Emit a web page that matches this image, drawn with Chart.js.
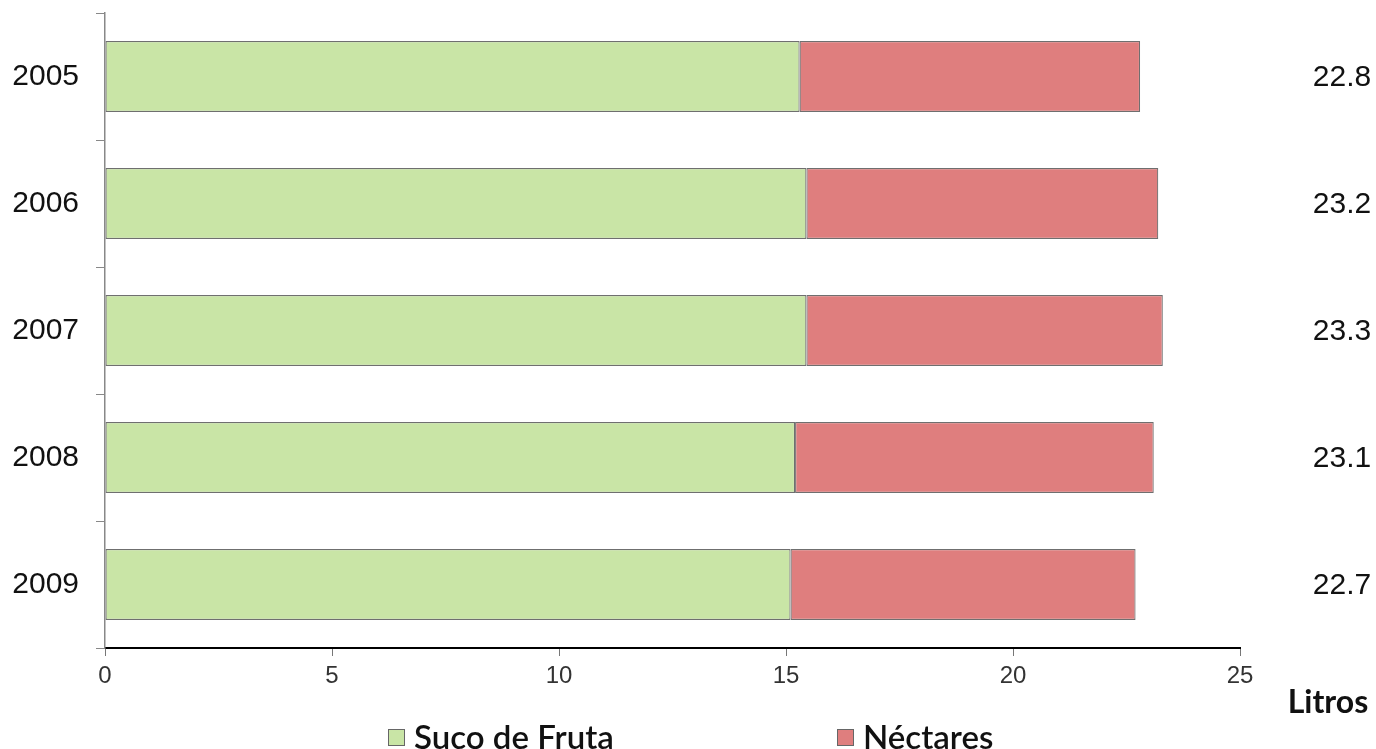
<!DOCTYPE html>
<html>
<head>
<meta charset="utf-8">
<script src="https://cdn.jsdelivr.net/npm/chart.js@4/dist/chart.umd.min.js"></script>
<style>
  html, body { margin: 0; padding: 0; background: #fff; }
  #wrap { position: relative; width: 1376px; height: 749px; }
</style>
</head>
<body>
<div id="wrap"><canvas id="chart"></canvas></div>
<script>
// Consumo de suco de fruta e néctares – barras horizontais empilhadas

const anos = ['2005', '2006', '2007', '2008', '2009'];
const sucoDeFruta = [15.3, 15.45, 15.45, 15.2, 15.1];
const nectares = [7.5, 7.75, 7.85, 7.9, 7.6];
const totais = ['22.8', '23.2', '23.3', '23.1', '22.7'];
const xTicks = [0, 5, 10, 15, 20, 25];

/* ---------- totais à direita + unidade ---------- */
const totaisPlugin = {
  id: 'totais',
  afterDatasetsDraw(chart) {
    const { ctx, scales } = chart;
    ctx.save();
    ctx.fillStyle = '#111';
    ctx.font = '30px "Liberation Sans", Arial, sans-serif';
    ctx.textAlign = 'center';
    ctx.textBaseline = 'middle';
    totais.forEach((t, i) => {
      ctx.fillText(t, 1342, scales.y.getPixelForValue(i) + 1);
    });
    ctx.font = 'bold 32px Lato, "Open Sans", sans-serif';
    ctx.fillText('Litros', 1328, 703);
    ctx.restore();
  }
};

/* ---------- legenda desenhada à mão (posições fixas) ---------- */
const legendaPlugin = {
  id: 'legenda',
  afterDraw(chart) {
    const { ctx } = chart;
    const posX = [388, 837];
    ctx.save();
    ctx.font = '600 33px Lato, "Open Sans", sans-serif';
    ctx.textBaseline = 'middle';
    chart.data.datasets.forEach((ds, i) => {
      const x = posX[i];
      ctx.fillStyle = ds.backgroundColor;
      ctx.fillRect(x, 729, 17, 17);
      ctx.strokeStyle = '#666';
      ctx.lineWidth = 1;
      ctx.strokeRect(x + 0.5, 729.5, 16, 16);
      ctx.fillStyle = '#111';
      ctx.fillText(ds.label, x + 26, 738);
    });
    ctx.restore();
  }
};

const ctx = document.getElementById('chart').getContext('2d');
new Chart(ctx, {
  type: 'bar',
  data: {
    labels: anos,
    datasets: [
      {
        label: 'Suco de Fruta',
        data: sucoDeFruta,
        backgroundColor: '#c9e5a6',
        borderColor: '#6f6f6f',
        borderWidth: 1.2,
        borderSkipped: false
      },
      {
        label: 'Néctares',
        data: nectares,
        backgroundColor: '#df7e7e',
        borderColor: '#6f6f6f',
        borderWidth: 1.2,
        borderSkipped: false
      }
    ]
  },
  options: {
    indexAxis: 'y',
    responsive: true,
    maintainAspectRatio: false,
    animation: false,
    layout: { padding: { top: 13, right: 136, left: 0, bottom: 0 } },
    datasets: { bar: { categoryPercentage: 1, barPercentage: 0.56 } },
    plugins: {
      legend: { display: false },
      tooltip: { enabled: false }
    },
    scales: {
      x: {
        stacked: true,
        min: 0,
        max: 25,
        afterFit(scale) { scale.height = 101; scale.paddingLeft = 0; scale.paddingRight = 0; },
        afterBuildTicks(scale) { scale.ticks = xTicks.map(v => ({ value: v })); },
        border: { display: true, color: '#000', width: 2 },
        grid: { drawOnChartArea: false, drawTicks: true, tickLength: 8, color: '#777' },
        ticks: {
          color: '#333',
          padding: 6,
          font: { family: '"Liberation Sans", Arial, sans-serif', size: 24 }
        }
      },
      y: {
        stacked: true,
        afterFit(scale) { scale.width = 105; scale.paddingTop = 0; scale.paddingBottom = 0; },
        border: { display: true, color: '#888', width: 1.5 },
        grid: { offset: true, drawOnChartArea: false, drawTicks: true, tickLength: 9, color: '#888' },
        ticks: {
          color: '#111',
          padding: 17,
          font: { family: '"Liberation Sans", Arial, sans-serif', size: 30 }
        }
      }
    }
  },
  plugins: [totaisPlugin, legendaPlugin]
});
</script>
</body>
</html>
